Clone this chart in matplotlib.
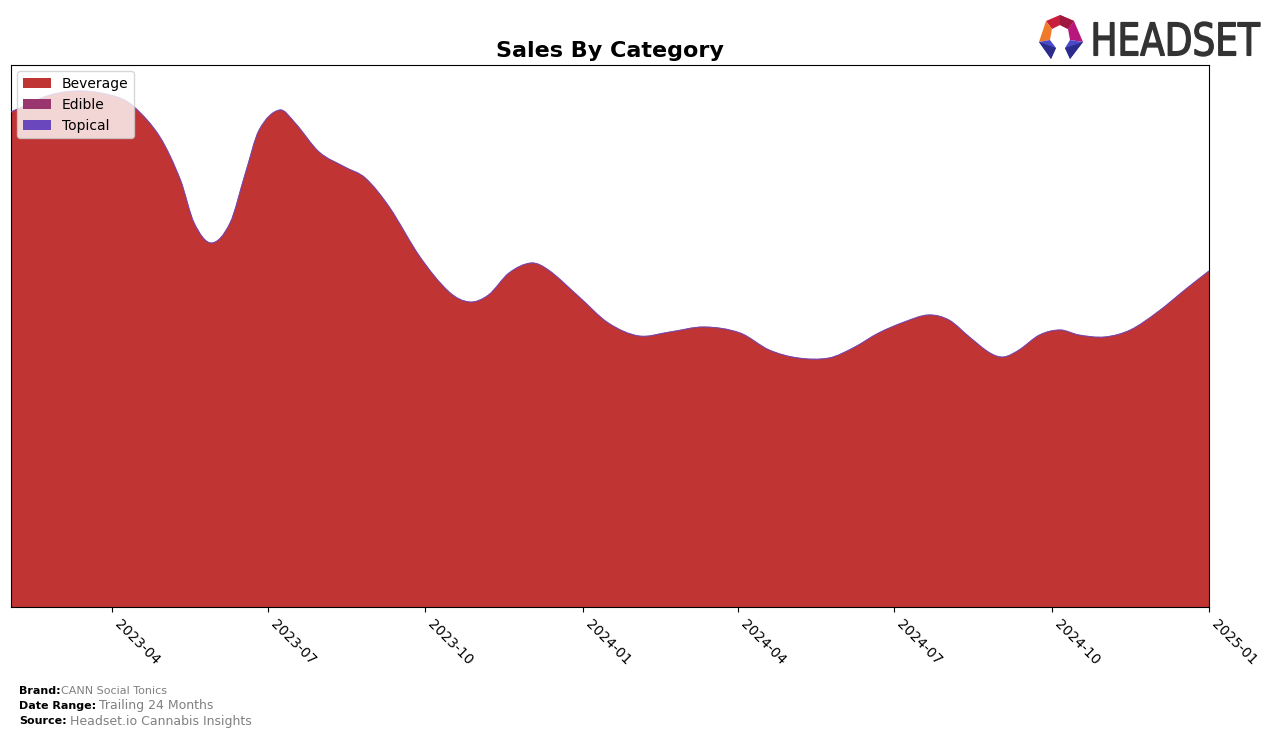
import numpy as np
import matplotlib
matplotlib.use("Agg")
import matplotlib.pyplot as plt
import matplotlib.dates as mdates
from matplotlib.path import Path
from matplotlib.patches import PathPatch, Patch, Polygon
from matplotlib.textpath import TextPath
from matplotlib.font_manager import FontProperties
from matplotlib.transforms import Affine2D

# ---- data ----
dates = ["2023-02-01", "2023-02-24", "2023-03-15", "2023-04-04", "2023-04-14",
         "2023-04-29", "2023-05-11", "2023-05-19", "2023-05-29", "2023-06-09",
         "2023-06-18", "2023-06-26", "2023-07-08", "2023-07-17", "2023-07-31",
         "2023-08-15", "2023-08-27", "2023-09-10", "2023-09-28",
         "2023-10-15", "2023-10-27", "2023-11-07", "2023-11-19", "2023-12-02",
         "2023-12-12", "2023-12-30", "2024-01-16", "2024-02-03", "2024-02-21",
         "2024-03-12", "2024-04-02", "2024-04-19", "2024-05-06", "2024-05-24",
         "2024-06-07", "2024-06-22", "2024-07-07", "2024-07-21", "2024-08-02",
         "2024-08-14", "2024-08-26", "2024-09-03", "2024-09-12", "2024-09-24",
         "2024-10-06", "2024-10-17", "2024-11-01", "2024-11-16", "2024-12-02",
         "2024-12-20", "2025-01-01"]
beverage = [495, 512, 516, 510, 500,
            470, 427, 384, 364, 384,
            434, 477, 497, 484, 455,
            440, 429, 400, 350,
            315, 305, 312, 334, 344,
            337, 310, 284, 271, 275,
            280, 274, 257, 249, 249,
            259, 274, 285, 292, 287,
            270, 254, 250, 257, 272,
            277, 272, 270, 277, 295,
            320, 336]
edible = [0] * len(dates)
topical = [0] * len(dates)
categories = ["Beverage", "Edible", "Topical"]
colors = ["#c03434", "#993670", "#6a47bd"]
tick_labels = ["2023-04", "2023-07", "2023-10", "2024-01",
               "2024-04", "2024-07", "2024-10", "2025-01"]


def smooth_path(x, y):
    """Cubic Hermite curve (finite-difference tangents) as a Bezier path."""
    x = np.asarray(x, float)
    y = np.asarray(y, float)
    n = len(x)
    m = np.empty(n)
    m[1:-1] = (y[2:] - y[:-2]) / (x[2:] - x[:-2])
    m[0] = (y[1] - y[0]) / (x[1] - x[0])
    m[-1] = (y[-1] - y[-2]) / (x[-1] - x[-2])
    verts = [(x[0], y[0])]
    codes = [Path.MOVETO]
    for i in range(n - 1):
        dx = x[i + 1] - x[i]
        verts += [(x[i] + dx / 3, y[i] + m[i] * dx / 3),
                  (x[i + 1] - dx / 3, y[i + 1] - m[i + 1] * dx / 3),
                  (x[i + 1], y[i + 1])]
        codes += [Path.CURVE4] * 3
    return verts, codes


W, H = 1276, 738
fig = plt.figure(figsize=(W / 100, H / 100), dpi=100)
ax = fig.add_axes([11 / W, 1 - 607 / H, (1209 - 11) / W, (607 - 65) / H])

x = mdates.date2num(np.array(dates, dtype="datetime64[D]"))
bev = np.array(beverage, float)
top1 = bev + np.array(edible, float)
top2 = top1 + np.array(topical, float)

verts, codes = smooth_path(x, bev)
verts = verts + [(x[-1], 0), (x[0], 0), (x[0], bev[0])]
codes = codes + [Path.LINETO, Path.LINETO, Path.CLOSEPOLY]
ax.add_patch(PathPatch(Path(verts, codes), facecolor=colors[0], edgecolor="none", zorder=2))
for vals, c in [(top1, colors[1]), (top2, colors[2])]:
    v, cd = smooth_path(x, vals)
    ax.add_patch(PathPatch(Path(v, cd), facecolor="none", edgecolor=c, lw=0.7, alpha=0.8, zorder=3))

ax.set_xlim(mdates.date2num(np.datetime64("2023-02-01")), mdates.date2num(np.datetime64("2025-01-01")))
ax.set_ylim(0, 542)
ax.set_yticks([])
ticks = mdates.date2num(np.array([t + "-01" for t in tick_labels], dtype="datetime64[D]"))
ax.set_xticks(ticks)
ax.set_xticklabels(tick_labels, rotation=-45, ha="left", fontsize=10)

ax.set_title("Sales By Category", fontsize=16, fontweight="bold", pad=6)

handles = [Patch(facecolor=c, label=l) for c, l in zip(colors, categories)]
ax.legend(handles=handles, loc="upper left", fontsize=10, framealpha=0.8,
          borderaxespad=0.45)

# footer
fig.text(19 / W, 1 - 691 / H, "Brand:", fontsize=8, fontweight="bold", va="center")
fig.text(61 / W, 1 - 691 / H, "CANN Social Tonics", fontsize=8, color="gray", va="center")
fig.text(19 / W, 1 - 706 / H, "Date Range:", fontsize=8, fontweight="bold", va="center")
fig.text(99 / W, 1 - 706 / H, "Trailing 24 Months", fontsize=9, color="gray", va="center")
fig.text(19 / W, 1 - 721 / H, "Source:", fontsize=8, fontweight="bold", va="center")
fig.text(70 / W, 1 - 721 / H, "Headset.io Cannabis Insights", fontsize=9, color="gray", va="center")

# logo: HEADSET word
tp = TextPath((0, 0), "HEADSET", size=100, prop=FontProperties(family="DejaVu Sans"))
bb = tp.get_extents()
x0, x1, y0, y1 = 1094, 1260, H - 56, H - 22
sx = (x1 - x0) / bb.width
sy = (y1 - y0) / bb.height
tr = Affine2D().translate(-bb.x0, -bb.y0).scale(sx, sy).translate(x0, y0)
fig.patches.append(PathPatch(tr.transform_path(tp), facecolor="#333333", edgecolor="#333333",
                             lw=1.0, transform=None, figure=fig))


def fp(pts):
    return [(px, H - py) for px, py in pts]


logo_polys = [
    ([(1046, 21), (1060, 15), (1074, 21), (1068, 29), (1060, 25), (1052, 29)], "#c8203c"),
    ([(1060, 15), (1074, 21), (1068, 29), (1060, 25)], "#a01840"),
    ([(1046, 21), (1039, 42), (1050, 40), (1052, 29)], "#ef7a2a"),
    ([(1074, 21), (1083, 42), (1070, 40), (1068, 29)], "#b8187c"),
    ([(1039, 42), (1050, 40), (1056, 48), (1051, 59)], "#4a4ac8"),
    ([(1039, 42), (1056, 48), (1051, 59)], "#2c2c8c"),
    ([(1083, 42), (1070, 40), (1065, 48), (1070, 59)], "#4a4ac8"),
    ([(1083, 42), (1065, 48), (1070, 59)], "#2c2c8c"),
]
for pts, c in logo_polys:
    fig.patches.append(Polygon(fp(pts), closed=True, facecolor=c, edgecolor="none",
                               transform=None, figure=fig))

fig.savefig("out.png", dpi=100)
